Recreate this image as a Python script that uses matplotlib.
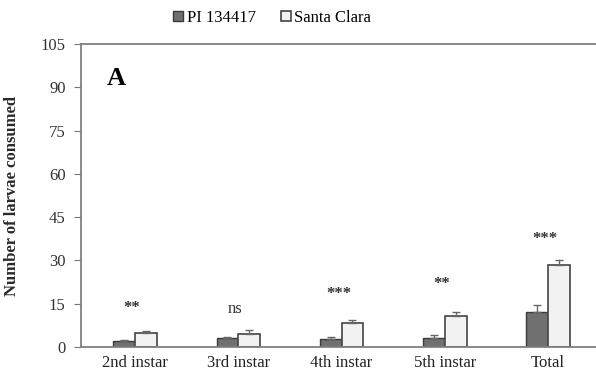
import numpy as np
import matplotlib.pyplot as plt

# data
stages = ['2nd instar', '3rd instar', '4th instar', '5th instar', 'Total']
pi_vals = [2.1, 3.2, 2.9, 3.2, 12.2]
pi_err = [0.4, 0.4, 0.4, 0.8, 2.2]
sc_vals = [5.0, 4.4, 8.3, 10.6, 28.4]
sc_err = [0.7, 1.4, 0.9, 1.4, 1.6]
signif = ['**', 'ns', '***', '**', '***']
signif_y = [13.4, 13.0, 18.5, 21.7, 37.4]

plt.rcParams['font.family'] = ['Liberation Serif', 'DejaVu Serif']

fig = plt.figure(figsize=(5.96, 3.75), dpi=100)
ax = fig.add_axes([81/596, 28/375, 515/596, 303/375])

x = np.arange(len(stages))
w = 0.21
ax.bar(x - w/2, pi_vals, w, color='#707070', edgecolor='#3a3a3a', linewidth=1.0,
       yerr=[np.zeros(5), pi_err], error_kw=dict(ecolor='#666666', capsize=3, elinewidth=1),
       label='PI 134417')
ax.bar(x + w/2, sc_vals, w, color='#f2f2f2', edgecolor='#444444', linewidth=1.2,
       yerr=[np.zeros(5), sc_err], error_kw=dict(ecolor='#666666', capsize=3, elinewidth=1),
       label='Santa Clara')

# significance marks above each pair
for xi, s, yy in zip(x, signif, signif_y):
    wt = 'normal' if s == 'ns' else 'bold'
    ax.text(xi - 0.03, yy, s, ha='center', va='center', fontsize=12, fontweight=wt,
            color='#333333')

ax.set_xlim(-0.523, 4.463)
ax.set_ylim(0, 105)
ax.set_yticks(np.arange(0, 106, 15))
ax.set_xticks(x)
ax.set_xticklabels(stages, fontsize=12, color='#222222')
ax.tick_params(axis='x', length=0, pad=6)
ax.tick_params(axis='y', length=5, labelsize=12, labelcolor='#333333', color='#777777',
               direction='out', pad=6)
for side in ['left', 'top', 'bottom']:
    ax.spines[side].set_color('#808080')
    ax.spines[side].set_linewidth(1.3)
ax.spines['right'].set_visible(False)

ax.set_ylabel('Number of larvae consumed', fontsize=12, fontweight='bold', color='#2a2a2a')
ax.yaxis.set_label_coords(-61/515, 0.5)
ax.text(26/515, 0.886, 'A', transform=ax.transAxes, fontsize=19, fontweight='bold',
        ha='left', va='center')

fig.legend(loc='center', bbox_to_anchor=(272/596, 1 - 18/375), ncol=2, frameon=False,
           fontsize=12, handlelength=0.6, handleheight=0.6, handletextpad=0.2,
           columnspacing=1.5)

fig.savefig('out.png', dpi=100)
